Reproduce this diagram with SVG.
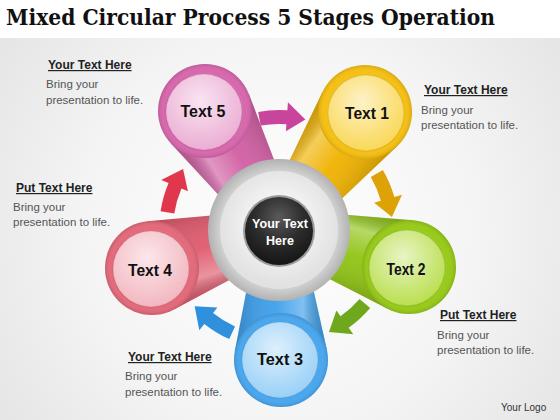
<svg xmlns="http://www.w3.org/2000/svg" width="560" height="420" viewBox="0 0 560 420">
<defs>
<radialGradient id="bg" cx="280" cy="230" r="330" gradientUnits="userSpaceOnUse">
<stop offset="0" stop-color="#ffffff"/><stop offset="0.6" stop-color="#f4f4f4"/><stop offset="1" stop-color="#e6e6e6"/>
</radialGradient>
<linearGradient id="tailShade" x1="0" y1="-46" x2="0" y2="46" gradientUnits="userSpaceOnUse">
<stop offset="0" stop-color="#000" stop-opacity="0.15"/>
<stop offset="0.25" stop-color="#fff" stop-opacity="0.35"/>
<stop offset="0.55" stop-color="#fff" stop-opacity="0.05"/>
<stop offset="1" stop-color="#000" stop-opacity="0.18"/>
</linearGradient>
<radialGradient id="ballShade" cx="0.5" cy="0.5" r="0.5">
<stop offset="0.7" stop-color="#fff" stop-opacity="0.15"/>
<stop offset="0.85" stop-color="#fff" stop-opacity="0"/>
<stop offset="1" stop-color="#000" stop-opacity="0.12"/>
</radialGradient>
<radialGradient id="diskShade" cx="0.45" cy="0.35" r="0.7">
<stop offset="0" stop-color="#fff" stop-opacity="0.7"/>
<stop offset="0.6" stop-color="#fff" stop-opacity="0.3"/>
<stop offset="1" stop-color="#fff" stop-opacity="0.05"/>
</radialGradient>
<radialGradient id="ringG" cx="0.5" cy="0.5" r="0.5">
<stop offset="0.8" stop-color="#d6d6d6"/><stop offset="1" stop-color="#b2b2b2"/>
</radialGradient>
<radialGradient id="bandG" cx="0.5" cy="0.45" r="0.5">
<stop offset="0.5" stop-color="#f2f2f2"/><stop offset="1" stop-color="#e2e2e2"/>
</radialGradient>
<radialGradient id="darkG" cx="0.5" cy="0.3" r="0.7">
<stop offset="0" stop-color="#5a5a5a"/><stop offset="0.5" stop-color="#2e2e2e"/><stop offset="1" stop-color="#151515"/>
</radialGradient>
<path id="arrow" d="M117.3,-24.9 A120,120 0 0 1 119.9,4.2 L127.9,4.5 L111.4,22.5 L98.9,3.5 L105.9,3.7 A106,106 0 0 0 103.7,-22.0 Z"/>
</defs>
<style>
.title{font-family:"DejaVu Serif",serif;font-weight:bold;font-size:22px;fill:#111}
.lbl{font-family:"Liberation Sans",Arial,sans-serif;font-weight:bold;font-size:17px;fill:#111;text-anchor:middle}
.hd{font-family:"Liberation Sans",Arial,sans-serif;font-weight:bold;font-size:12px;fill:#222;text-decoration:underline}
.bd{font-family:"Liberation Sans",Arial,sans-serif;font-size:11.5px;fill:#555}
.ctr{font-family:"Liberation Sans",Arial,sans-serif;font-weight:bold;font-size:12.5px;fill:#fff;text-anchor:middle}
.logo{font-family:"Liberation Sans",Arial,sans-serif;font-size:10px;fill:#333}
.ts{fill:url(#tailShade)}
.bs{fill:url(#ballShade)}
.ds{fill:url(#diskShade)}
.rim{fill:none;stroke:#000;stroke-opacity:0.07;stroke-width:1.5}
</style>
<rect x="0" y="0" width="560" height="420" fill="url(#bg)"/>
<rect x="0" y="0" width="560" height="38" fill="#ffffff"/>
<text class="title" x="6" y="25" textLength="489" lengthAdjust="spacingAndGlyphs">Mixed Circular Process 5 Stages Operation</text>

<g id="node-text5">
<g transform="translate(279,230) rotate(238.13)">
<path fill="#d15ea3" d="M0,-21 L130.9,-46.1 L130.9,46.1 L0,21 Z"/>
<path class="ts" d="M0,-21 L130.9,-46.1 L130.9,46.1 L0,21 Z"/>
</g>
<circle cx="205" cy="111" r="47" fill="#d867ad"/>
<circle class="bs" cx="205" cy="111" r="47"/>
<circle cx="204" cy="112" r="38" fill="#eaa6d0"/>
<circle class="ds" cx="204" cy="112" r="38"/>
<circle class="rim" cx="204" cy="112" r="38"/>
<text class="lbl" x="203" y="117" textLength="45" lengthAdjust="spacingAndGlyphs">Text 5</text>
</g>

<g id="node-text1">
<g transform="translate(279,230) rotate(306.08)">
<path fill="#f0b200" d="M0,-21 L136.8,-46.1 L136.8,46.1 L0,21 Z"/>
<path class="ts" d="M0,-21 L136.8,-46.1 L136.8,46.1 L0,21 Z"/>
</g>
<circle cx="365" cy="112" r="47" fill="#f6c012"/>
<circle class="bs" cx="365" cy="112" r="47"/>
<circle cx="366" cy="113" r="38" fill="#f9d447"/>
<circle class="ds" cx="366" cy="113" r="38"/>
<circle class="rim" cx="366" cy="113" r="38"/>
<text class="lbl" x="367" y="119" textLength="44" lengthAdjust="spacingAndGlyphs">Text 1</text>
</g>

<g id="node-text2">
<g transform="translate(279,230) rotate(15.89)">
<path fill="#8fc414" d="M0,-21 L126,-46.1 L126,46.1 L0,21 Z"/>
<path class="ts" d="M0,-21 L126,-46.1 L126,46.1 L0,21 Z"/>
</g>
<circle cx="409" cy="267" r="47" fill="#97ca18"/>
<circle class="bs" cx="409" cy="267" r="47"/>
<circle cx="407" cy="268" r="38" fill="#b3dc3e"/>
<circle class="ds" cx="407" cy="268" r="38"/>
<circle class="rim" cx="407" cy="268" r="38"/>
<text class="lbl" x="406" y="275" textLength="39" lengthAdjust="spacingAndGlyphs">Text 2</text>
</g>

<g id="node-text3">
<g transform="translate(279,230) rotate(89.12)">
<path fill="#3d9fea" d="M0,-21 L120.8,-46.1 L120.8,46.1 L0,21 Z"/>
<path class="ts" d="M0,-21 L120.8,-46.1 L120.8,46.1 L0,21 Z"/>
</g>
<circle cx="281" cy="360" r="47" fill="#48a7ef"/>
<circle class="bs" cx="281" cy="360" r="47"/>
<circle cx="280" cy="360" r="38" fill="#90ccf6"/>
<circle class="ds" cx="280" cy="360" r="38"/>
<circle class="rim" cx="280" cy="360" r="38"/>
<text class="lbl" x="280" y="365" textLength="46" lengthAdjust="spacingAndGlyphs">Text 3</text>
</g>

<g id="node-text4">
<g transform="translate(279,230) rotate(163.34)">
<path fill="#e05a6d" d="M0,-21 L123.4,-46.1 L123.4,46.1 L0,21 Z"/>
<path class="ts" d="M0,-21 L123.4,-46.1 L123.4,46.1 L0,21 Z"/>
</g>
<circle cx="152" cy="268" r="47" fill="#e4697a"/>
<circle class="bs" cx="152" cy="268" r="47"/>
<circle cx="151" cy="269" r="38" fill="#f2b0ba"/>
<circle class="ds" cx="151" cy="269" r="38"/>
<circle class="rim" cx="151" cy="269" r="38"/>
<text class="lbl" x="150" y="276" textLength="44" lengthAdjust="spacingAndGlyphs">Text 4</text>
</g>

<g id="node-center">
<circle cx="279" cy="230" r="71" fill="url(#ringG)"/>
<circle cx="279" cy="230" r="59" fill="url(#bandG)"/>
<circle cx="279" cy="231" r="36" fill="#9a9a9a"/>
<circle cx="279" cy="231" r="34" fill="url(#darkG)"/>
<text class="ctr" x="280" y="228">Your Text</text>
<text class="ctr" x="280" y="245">Here</text>
</g>

<g id="connectors" transform="translate(279,230)">
<use href="#arrow" transform="rotate(272)" fill="#c9449c"/>
<use href="#arrow" transform="rotate(342)" fill="#dca208"/>
<use href="#arrow" transform="rotate(52.5)" fill="#6fa81d"/>
<use href="#arrow" transform="rotate(126.5)" fill="#2f90de"/>
<use href="#arrow" transform="rotate(201)" fill="#e0374d"/>
</g>

<g id="notes">
<text class="hd" x="48" y="69">Your Text Here</text>
<text class="bd" x="46" y="88">Bring your</text>
<text class="bd" x="46" y="104">presentation to life.</text>
<text class="hd" x="424" y="94">Your Text Here</text>
<text class="bd" x="421" y="114">Bring your</text>
<text class="bd" x="421" y="129">presentation to life.</text>
<text class="hd" x="16" y="192">Put Text Here</text>
<text class="bd" x="13" y="211">Bring your</text>
<text class="bd" x="13" y="226">presentation to life.</text>
<text class="hd" x="128" y="361">Your Text Here</text>
<text class="bd" x="125" y="380">Bring your</text>
<text class="bd" x="125" y="396">presentation to life.</text>
<text class="hd" x="440" y="319">Put Text Here</text>
<text class="bd" x="437" y="339">Bring your</text>
<text class="bd" x="437" y="354">presentation to life.</text>
<text class="logo" x="501" y="411">Your Logo</text>
</g>
</svg>
